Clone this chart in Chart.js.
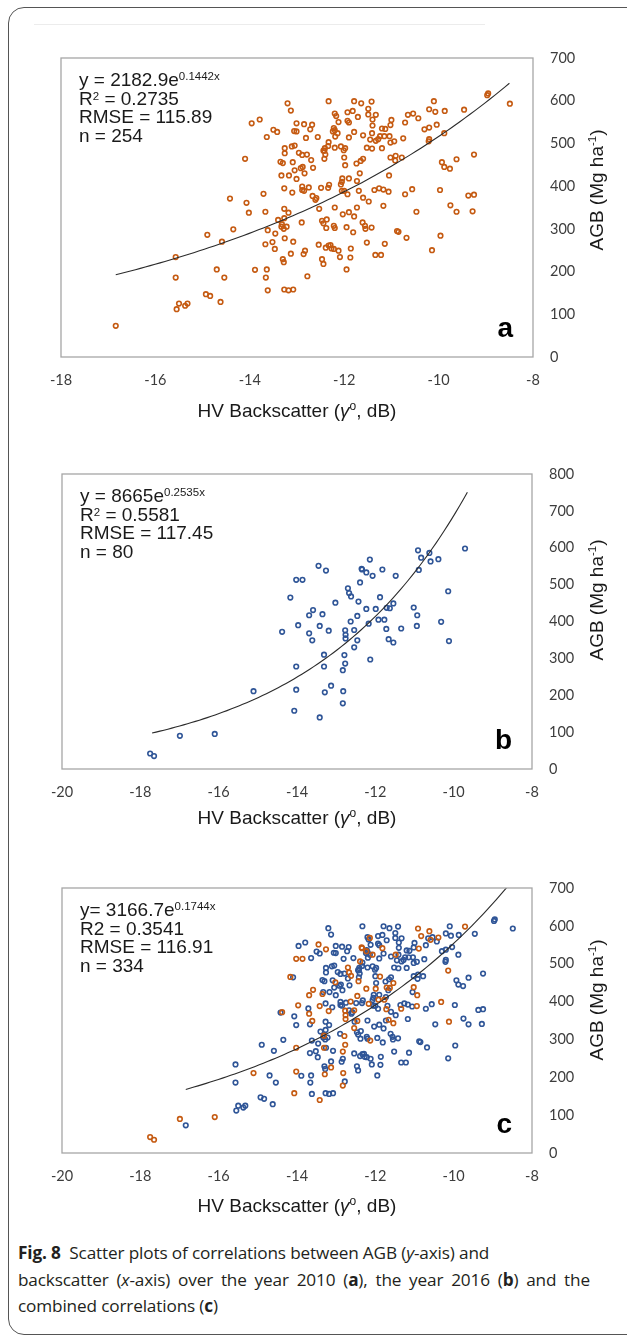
<!DOCTYPE html>
<html>
<head>
<meta charset="utf-8">
<script src="https://cdn.jsdelivr.net/npm/chart.js@4.4.1/dist/chart.umd.min.js"></script>
<style>
  html, body { margin: 0; padding: 0; background: #fff; }
  body { width: 627px; height: 1341px; position: relative; overflow: hidden; }
  .frame { position: absolute; left: 8px; top: 7px; width: 660px; height: 1328px;
           border: 1.5px solid #555; border-radius: 16px; box-sizing: border-box; }
  .rule { position: absolute; left: 34px; top: 24px; width: 451px; height: 1px; background: #ececec; }
  canvas { position: absolute; left: 0; }
  .caption { position: absolute; left: 18px; top: 1240px; font-family: "Open Sans", "Noto Sans", sans-serif;
             font-size: 17.2px; color: #231f20; letter-spacing: -0.15px; }
  .caption div { white-space: nowrap; height: 26.5px; line-height: 26.5px; }
  .caption div.full { width: 572px; text-align: justify; text-align-last: justify; }
  .caption b { font-weight: 700; }
</style>
</head>
<body>
<div class="frame"></div>
<div class="rule"></div>
<canvas id="panelA" width="627" height="410" style="top:30px"></canvas>
<canvas id="panelB" width="627" height="400" style="top:440px"></canvas>
<canvas id="panelC" width="627" height="375" style="top:860px"></canvas>
<div class="caption">
  <div><b>Fig. 8</b>&nbsp; Scatter plots of correlations between AGB (<i>y</i>-axis) and</div>
  <div class="full">backscatter (<i>x</i>-axis) over the year 2010 (<b>a</b>), the year 2016 (<b>b</b>) and the</div>
  <div>combined correlations (<b>c</b>)</div>
</div>
<script>
// HV backscatter (dB) and AGB (Mg/ha) for the 2010 plots
const points2010 = [
  [-13.20,594],[-12.33,599],[-13.13,577],[-11.79,599],[-11.64,594],[-11.42,598],[-11.49,581],[-12.20,570],
  [-12.17,564],[-11.93,573],[-11.82,576],[-11.49,568],[-11.33,567],[-11.71,562],[-11.40,556],[-10.65,567],
  [-10.54,570],[-10.43,559],[-10.20,580],
  [-13.96,547],[-13.79,556],[-13.01,547],[-12.85,545],[-12.68,544],[-12.72,533],[-13.06,529],[-13.01,528],
  [-13.50,532],[-13.42,527],[-13.64,515],[-12.12,550],[-11.93,553],[-11.90,549],[-12.22,536],[-12.20,531],
  [-12.24,528],[-12.14,524],[-12.19,516],[-11.90,514],[-11.79,527],[-11.60,519],[-11.40,542],[-11.41,524],
  [-11.20,535],[-11.13,534],[-11.00,555],[-11.02,543],[-10.71,549],[-10.30,533],[-10.20,537],
  [-12.56,515],[-12.81,513],[-12.33,503],[-12.34,494],[-12.41,489],[-12.42,483],[-12.20,490],[-12.07,493],
  [-12.01,484],[-11.98,489],[-11.52,490],[-11.41,488],[-11.45,509],[-11.33,506],[-11.28,510],[-11.24,517],
  [-11.15,517],[-11.04,517],[-11.20,489],[-11.02,502],[-10.94,505],[-10.75,512],[-10.20,510],
  [-13.26,489],[-13.26,477],[-13.11,493],[-13.05,495],[-12.96,478],[-12.89,473],[-12.79,474],[-12.70,461],
  [-12.44,483],[-12.40,474],[-12.42,464],[-13.35,457],[-13.30,454],[-13.09,456],[-14.10,464],
  [-12.00,467],[-11.98,449],[-11.74,453],[-11.65,459],[-11.60,464],[-11.02,467],[-10.92,460],[-10.91,471],
  [-10.78,467],[-12.92,442],[-12.88,445],[-13.05,437],[-12.66,443],[-12.84,430],[-13.33,425],[-13.17,425],
  [-13.01,417],[-11.67,430],
  [-12.04,418],[-11.90,418],[-12.05,410],[-12.07,404],[-11.73,412],[-11.05,425],[-13.27,395],[-12.89,399],
  [-12.89,391],[-12.85,389],[-12.75,397],[-12.49,396],[-12.34,396],[-12.32,403],[-13.10,385],[-12.05,389],
  [-12.00,389],[-11.93,381],[-11.69,389],[-11.36,391],[-11.26,395],[-11.17,392],[-11.06,387],[-10.56,393],
  [-10.71,381],
  [-13.71,382],[-14.42,371],[-12.67,377],[-12.59,372],[-12.61,368],[-11.60,373],[-11.48,364],[-11.17,354],
  [-14.07,361],[-12.53,347],[-12.20,350],[-11.73,350],[-13.27,347],[-13.18,338],[-13.67,340],[-14.02,338],
  [-12.03,334],[-11.90,339],[-11.79,329],[-13.40,321],[-13.27,325],[-13.32,311],[-13.33,305],[-13.28,300],
  [-13.22,305],[-12.90,315],[-12.47,319],[-12.37,322],[-12.44,313],[-11.61,315],[-11.56,307],[-11.55,300],
  [-11.42,303],[-12.22,307],[-12.20,302],[-11.95,304],[-11.81,292],[-10.88,295],[-10.85,293],[-14.35,299],
  [-13.62,297],[-13.46,289],[-10.47,340],[-12.38,302],
  [-13.26,278],[-13.08,270],[-13.52,269],[-13.67,264],[-12.54,263],[-12.33,261],[-12.29,262],[-12.39,256],
  [-12.27,254],[-12.22,253],[-12.12,249],[-11.86,254],[-11.52,268],[-11.14,265],[-10.68,279],[-13.47,253],
  [-12.83,249],[-12.86,241],[-13.13,242],[-12.47,229],[-12.44,218],[-12.09,234],[-11.87,233],[-11.34,239],
  [-11.22,239],[-13.30,229],[-13.28,222],[-13.89,204],[-13.64,205],[-11.95,205],
  [-16.84,73],[-15.57,234],[-15.57,186],[-15.50,125],[-15.55,112],[-15.37,120],[-15.32,125],[-14.90,286],
  [-14.70,205],[-14.54,186],[-14.93,147],[-14.84,143],[-14.62,129],[-14.59,270],
  [-13.66,186],[-13.62,156],[-13.27,158],[-13.18,156],[-13.08,158],[-12.78,189],
  [-10.10,599],[-10.07,574],[-9.46,579],[-8.97,613],[-8.95,617],[-8.49,593],[-9.87,576],[-10.04,544],
  [-9.88,524],[-10.21,505],[-9.93,456],[-9.88,445],[-9.76,441],[-9.62,463],[-9.25,474],[-9.97,391],
  [-9.37,378],[-9.25,380],[-9.75,355],[-9.62,340],[-9.28,341],[-9.96,284],[-10.14,250]
];

// HV backscatter (dB) and AGB (Mg/ha) for the 2016 plots
const points2016 = [
  [-9.71,598],[-10.91,593],[-10.62,586],[-10.83,573],[-10.59,563],[-10.39,569],[-10.89,540],[-12.14,568],
  [-12.35,543],[-12.34,541],[-12.23,533],[-12.07,524],[-11.82,541],[-11.48,524],[-12.39,506],[-13.45,551],
  [-13.26,538],[-14.02,513],[-13.86,513],[-14.17,465],[-12.70,490],[-12.67,477],[-12.62,468],[-13.02,451],
  [-12.43,454],[-11.88,466],[-11.54,449],[-12.23,434],[-11.99,434],[-11.71,437],[-11.63,436],[-11.02,438],
  [-10.14,482],[-13.59,431],[-13.69,417],[-13.35,420],[-12.46,415],[-12.63,400],[-12.17,394],[-11.92,405],
  [-11.77,405],[-10.93,417],[-10.32,399],[-13.97,390],[-13.42,388],[-13.19,375],[-14.38,372],[-13.69,368],
  [-13.61,349],[-12.77,376],[-12.76,364],[-12.76,354],[-12.54,377],[-12.46,349],[-12.54,330],[-11.72,380],
  [-11.34,381],[-10.94,388],[-11.66,352],[-11.54,343],[-10.12,347],[-13.31,310],[-12.79,309],[-12.13,297],
  [-14.02,278],[-13.31,278],[-12.77,286],[-12.83,268],[-13.13,226],[-13.29,208],[-12.82,211],[-14.02,215],
  [-15.11,211],[-14.07,158],[-12.83,178],[-13.42,140],[-16.10,95],[-16.99,90],[-17.75,42],[-17.65,35]
];

// Exponential fits y = coef * e^(rate * x) and the x span each trend line covers
const fit2010 = [2182.9, 0.1442];
const fit2016 = [8665, 0.2535];
const fitCombined = [3166.7, 0.1744];
const span2010 = [-16.84, -8.5];
const span2016 = [-17.7, -9.65];
const spanCombined = [-16.84, -8.5];

// Statistics printed in each panel
const stats2010 = ['2182.9', '0.1442x', '0.2735', '115.89', '254'];
const stats2016 = ['8665', '0.2535x', '0.5581', '117.45', '80'];
const statsCombined = ['3166.7', '0.1744x', '0.3541', '116.91', '334'];

// Axis ranges and tick steps
const xMins = [-18, -20, -20];
const xMax = -8;
const xStep = 2;
const yMaxes = [700, 800, 700];
const yStep = 100;

const ORANGE = '#C55A11';
const BLUE = '#2F5597';
const SANS = '"Liberation Sans", Arial, Helvetica, sans-serif';

function trendPoints(fit, span) {
  const pts = [];
  const n = 80;
  for (let i = 0; i <= n; i++) {
    const x = span[0] + (span[1] - span[0]) * i / n;
    pts.push({ x, y: fit[0] * Math.exp(fit[1] * x) });
  }
  return pts;
}

function toXY(list) { return list.map(p => ({ x: p[0], y: p[1] })); }

function drawRuns(ctx, runs, x, y) {
  for (const r of runs) {
    ctx.font = r.font;
    ctx.fillText(r.text, x, y + (r.dy || 0));
    x += ctx.measureText(r.text).width;
  }
}
function runsWidth(ctx, runs) {
  let w = 0;
  for (const r of runs) { ctx.font = r.font; w += ctx.measureText(r.text).width; }
  return w;
}

const F19 = `19px ${SANS}`;
const F11 = `11.5px ${SANS}`;

function equationLines(stats, plainR2, tightEq) {
  return [
    [{ text: (tightEq ? 'y= ' : 'y = ') + stats[0] + 'e', font: F19 }, { text: stats[1], font: F11, dy: -6 }],
    plainR2
      ? [{ text: 'R2 = ' + stats[2], font: F19 }]
      : [{ text: 'R', font: F19 }, { text: '2', font: F11, dy: -4.5 }, { text: ' = ' + stats[2], font: F19 }],
    [{ text: 'RMSE = ' + stats[3], font: F19 }],
    [{ text: 'n = ' + stats[4], font: F19 }]
  ];
}

const xTitle = [
  { text: 'HV Backscatter (', font: F19 },
  { text: 'γ', font: `italic 19px ${SANS}` },
  { text: 'o', font: `12px ${SANS}`, dy: -7 },
  { text: ', dB)', font: F19 }
];
const yTitle = [
  { text: 'AGB (Mg ha', font: F19 },
  { text: '-1', font: F11, dy: -7 },
  { text: ')', font: F19 }
];

// Draws the plot frame, fit statistics, panel letter and axis titles
const panelDecor = {
  id: 'panelDecor',
  afterDraw(chart, args, opts) {
    const ctx = chart.ctx;
    const a = chart.chartArea;
    ctx.save();
    ctx.strokeStyle = '#a6a6a6';
    ctx.lineWidth = 1.3;
    ctx.strokeRect(a.left, a.top, a.right - a.left, a.bottom - a.top);

    ctx.fillStyle = '#1a1a1a';
    ctx.textBaseline = 'alphabetic';
    ctx.textAlign = 'left';
    opts.lines.forEach((runs, i) => drawRuns(ctx, runs, a.left + 18, a.top + 28 + i * 18.5));

    ctx.font = `bold 28px ${SANS}`;
    ctx.textAlign = 'right';
    ctx.fillStyle = '#000';
    ctx.fillText(opts.letter, a.right - 20, a.bottom - 20);

    ctx.textAlign = 'left';
    ctx.fillStyle = '#1a1a1a';
    const w = runsWidth(ctx, xTitle);
    drawRuns(ctx, xTitle, (a.left + a.right) / 2 - w / 2, a.bottom + opts.xTitleGap);

    const wy = runsWidth(ctx, yTitle);
    ctx.translate(opts.yTitleX, opts.yTitleY);
    ctx.rotate(-Math.PI / 2);
    drawRuns(ctx, yTitle, -wy / 2, 7);
    ctx.restore();
  }
};

function makePanel(canvasId, top, box, xMin, yMax, series, fit, span, lines, letter, xTitleGap, yTitleY) {
  const canvas = document.getElementById(canvasId);
  const H = canvas.height;
  const datasets = [{
    type: 'line',
    data: trendPoints(fit, span),
    borderColor: '#2b2b2b',
    borderWidth: 1.1,
    pointRadius: 0,
    fill: false,
    tension: 0,
    order: 0
  }];
  series.forEach((s, i) => datasets.push({
    type: 'scatter',
    data: toXY(s.data),
    pointRadius: 2.3,
    pointBorderWidth: 1.6,
    pointBorderColor: s.color,
    pointBackgroundColor: 'rgba(255,255,255,0)',
    order: i + 1
  }));
  return new Chart(canvas, {
    type: 'scatter',
    data: { datasets },
    plugins: [panelDecor],
    options: {
      responsive: false,
      animation: false,
      devicePixelRatio: 1,
      layout: { padding: { left: box[0], top: box[1] - top, right: 0, bottom: 0 } },
      plugins: {
        legend: { display: false },
        tooltip: { enabled: false },
        panelDecor: { lines, letter, xTitleGap, yTitleX: 596, yTitleY: yTitleY - top }
      },
      scales: {
        x: {
          type: 'linear', position: 'bottom', min: xMin, max: xMax,
          ticks: { stepSize: xStep, color: '#3d3d3d', padding: 15, maxRotation: 0,
                   font: { family: 'Lato', size: 14.5 } },
          grid: { display: false, drawTicks: false },
          border: { display: false },
          afterFit(s) { s.height = H - (box[3] - top); }
        },
        y: {
          type: 'linear', position: 'right', min: 0, max: yMax,
          ticks: { stepSize: yStep, color: '#3d3d3d', padding: 17,
                   font: { family: 'Lato', size: 14.5 } },
          grid: { display: false, drawTicks: false },
          border: { display: false },
          afterFit(s) { s.width = 627 - box[2]; }
        }
      }
    }
  });
}

makePanel('panelA', 30, [61, 58, 533, 357], xMins[0], yMaxes[0],
  [{ data: points2010, color: ORANGE }], fit2010, span2010,
  equationLines(stats2010, false, false), 'a', 60, 190);

makePanel('panelB', 440, [62, 474, 532, 769], xMins[1], yMaxes[1],
  [{ data: points2016, color: BLUE }], fit2016, span2016,
  equationLines(stats2016, false, false), 'b', 55, 600);

makePanel('panelC', 860, [62, 888, 532, 1153], xMins[2], yMaxes[2],
  [{ data: points2016, color: ORANGE }, { data: points2010, color: BLUE }], fitCombined, spanCombined,
  equationLines(statsCombined, true, true), 'c', 59, 1000);
</script>
</body>
</html>
